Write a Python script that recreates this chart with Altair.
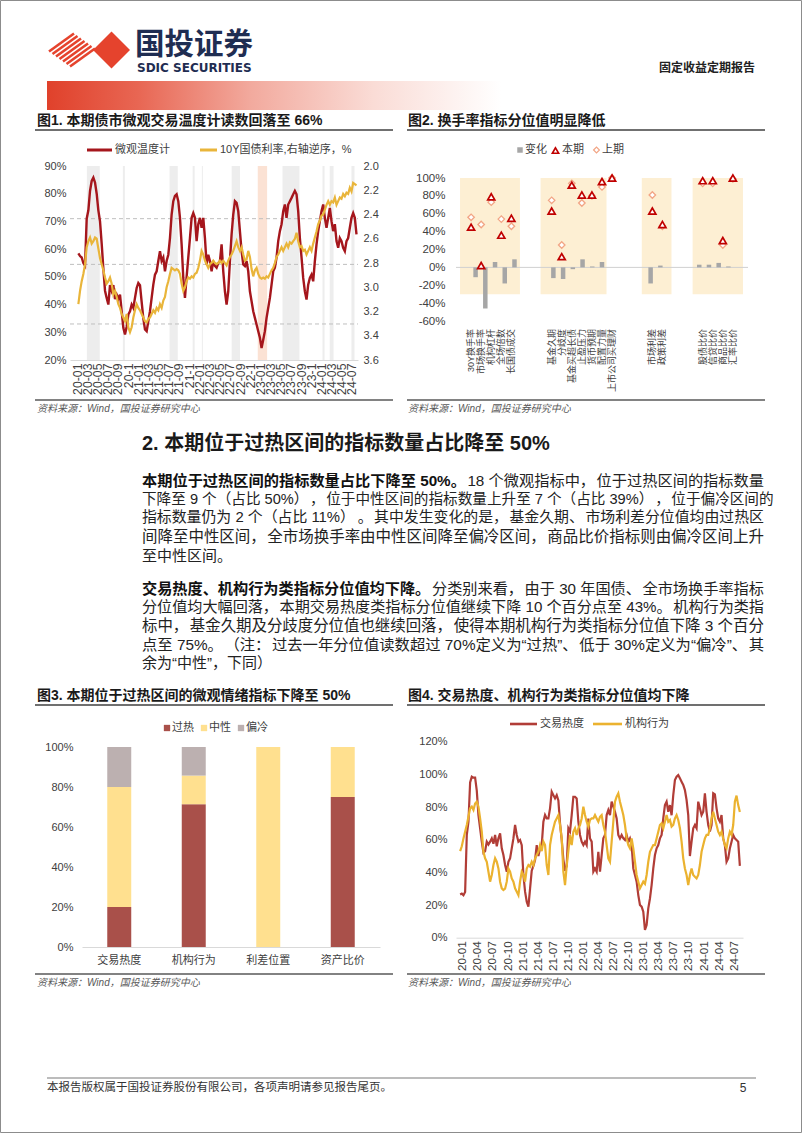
import altair as alt
import numpy as np
import pandas as pd

W, H = 802, 1133
CJK = "Noto Sans CJK SC"
LAT = "Liberation Sans"
MIX = "Liberation Sans, Noto Sans CJK SC"
AX = "#404040"

# ======================= DATA =======================
# --- Figure 1: micro thermometer (%) and 10Y CGB yield (%), ~10-day samples
fig1_first, fig1_last = "2020-01-09", "2024-07-28"
fig1_thermo = [
    58.5, 57.5, 57, 55, 54, 71, 74, 81, 84.6, 85.8,
    84, 80, 74, 70, 62, 53, 45, 42.4, 40, 47,
    45, 47, 42, 43.6, 42, 43.6, 37.6, 31.6, 29.2, 32,
    36.4, 37.6, 40, 38.8, 42.4, 46, 47.8, 47, 41, 35,
    31, 30.4, 34, 37.6, 42.4, 47.2, 50.8, 52, 55.7, 59.3,
    55.7, 57, 52, 55.7, 58, 64, 72.5, 77.3, 79.2, 79.8,
    77.3, 71.3, 61.7, 49.6, 42.4, 50, 57, 64, 71.3, 73,
    71.3, 62.9, 69, 71.3, 67.7, 71.3, 64, 54.5, 58, 55.7,
    52, 55.7, 54, 53.3, 55, 55.7,
    61.7, 52, 44.8, 40, 44.8, 55.7, 65.3, 72.5, 77.3, 76.7,
    73.7, 66.5, 59.3, 54.5, 53.9, 55.7, 52, 44.8, 41.2, 37.6,
    35.2, 32.8, 30.4, 28, 24.3, 27.3, 30.4, 35.2, 38.8, 42.4,
    47.2, 52, 53.3, 57, 62.9, 66.5, 69, 73.7, 76.1, 71.3,
    76.1, 77.3, 78.5, 79.8, 81, 79.8, 73.7, 64, 57, 49.6,
    44.8, 41.8, 47.2, 49.6, 50.8, 48.4, 55.7, 61.7, 66.5, 70.1,
    73.7, 76.1, 71.3, 67.7, 71.3, 74.9, 70.1, 66.5, 69, 62.9,
    60.5, 64, 62.9, 60.5, 59.3, 62.9, 64, 67.7, 71.3, 73,
    71.3, 65.3,
]
fig1_yield = [
    3.14, 3.03, 2.95, 2.89, 2.81, 2.67, 2.62, 2.59, 2.64, 2.62,
    2.59, 2.60, 2.68, 2.76, 2.81, 2.86, 2.92, 2.97, 2.95, 2.92,
    2.97, 3.06, 3.03, 3.08, 3.14, 3.17, 3.22, 3.25, 3.28, 3.22,
    3.33, 3.37, 3.33, 3.25, 3.19, 3.14, 3.17, 3.19, 3.22, 3.25,
    3.28, 3.29, 3.26, 3.25, 3.22, 3.19, 3.21, 3.17, 3.19, 3.14,
    3.17, 3.11, 3.08, 3.00, 2.95, 2.89, 2.84, 2.85, 2.86, 2.85,
    2.86, 2.89, 2.97, 3.03, 3.00, 2.95, 2.92, 2.93, 2.91, 2.92,
    2.89, 2.88, 2.84, 2.78, 2.70, 2.73, 2.78, 2.81, 2.84, 2.81,
    2.80, 2.78, 2.80, 2.81, 2.80, 2.78,
    2.80, 2.78, 2.80, 2.82, 2.78, 2.75, 2.73, 2.70, 2.66, 2.62,
    2.67, 2.70, 2.67, 2.73, 2.78, 2.77, 2.70, 2.75, 2.85, 2.91,
    2.86, 2.84, 2.89, 2.92, 2.93, 2.92, 2.93, 2.91, 2.92, 2.89,
    2.86, 2.84, 2.80, 2.75, 2.73, 2.70, 2.67, 2.70, 2.67, 2.64,
    2.67, 2.63, 2.64, 2.62, 2.60, 2.55, 2.62, 2.67, 2.66, 2.70,
    2.69, 2.73, 2.70, 2.67, 2.70, 2.64, 2.59, 2.54, 2.48, 2.45,
    2.41, 2.40, 2.36, 2.32, 2.29, 2.32, 2.29, 2.30, 2.26, 2.32,
    2.29, 2.26, 2.27, 2.23, 2.25, 2.22, 2.23, 2.18, 2.21, 2.14,
    2.15, 2.16,
]
fig1_band_start = ["2020-02-29", "2020-10-01", "2021-07-07", "2021-11-22", "2022-01-16",
                   "2022-07-13", "2022-12-16", "2023-05-13", "2024-01-07", "2024-02-19", "2024-06-28"]
fig1_band_end = ["2020-05-16", "2020-10-13", "2021-08-25", "2021-12-04", "2022-01-22",
                 "2022-09-01", "2023-02-10", "2023-08-22", "2024-01-19", "2024-03-13", "2024-07-16"]
fig1_band_kind = ["g", "g", "g", "g", "g", "g", "o", "g", "g", "g", "g"]
fig1_ref_levels = [0.71, 0.545, 0.33]
fig1_tick_labels = ["20-01", "20-03", "20-05", "20-07", "20-09", "20-1",
                    "21-01", "21-03", "21-05", "21-07", "21-09", "21-1",
                    "22-01", "22-03", "22-05", "22-07", "22-09", "22-1",
                    "23-01", "23-03", "23-05", "23-07", "23-09", "23-1",
                    "24-01", "24-03", "24-05", "24-07"]

# --- Figure 2: percentile of each indicator
fig2_labels = ["30Y换手率", "市场换手率", "机构杠杆", "全场倍数", "长国债成交",
               "基金久期", "分歧度", "基金买超长债", "止盈压力", "货币预期", "配置力量", "上市公司买理财",
               "市场利差", "政策利差",
               "股债比价", "信贷比价", "商品比价", "汇率比价"]
fig2_slot = [1, 2, 3, 4, 5, 9, 10, 11, 12, 13, 14, 15, 19, 20, 24, 25, 26, 27]
fig2_now = [45, 2, 79, 36, 55, 63, 12, 92, 81, 81, 96, 100, 63, 48, 97, 97, 30, 100]
fig2_prev = [56, 48, 73, 54, 46, 75, 25, 94, 72, 80, 90, 100, 81, 46, 94, 94, 25, 99]
fig2_chg = [-11, -46, 6, -18, 9, -12, -13, -2, 9, 1, 6, 0, -18, 2, 3, 3, 5, 1]
fig2_group_from = [-0.1, 7.9, 17.95, 23.0]
fig2_group_to = [5.85, 14.45, 20.9, 28.0]
fig2_group_low, fig2_group_high = -30, 100

# --- Figure 3: share of indicators in each zone
fig3_cats = ["交易热度", "机构行为", "利差位置", "资产比价"]
fig3_levels = ["过热", "中性", "偏冷"]
fig3_hot = [0.20, 0.714, 0.0, 0.75]
fig3_neutral = [0.60, 0.143, 1.0, 0.25]
fig3_cold = [0.20, 0.143, 0.0, 0.0]

# --- Figure 4: category percentiles (%)
fig4_first, fig4_last = "2019-12-22", "2024-08-10"
fig4_heat = [
    26.5, 27, 26, 28, 63, 71, 95, 98.6, 98, 98,
    90, 75, 67, 58.8, 52, 53, 58.8, 57, 58.8, 60.8,
    57.5, 62.9, 56, 60.8, 63.9, 54.7, 50.6, 44.5, 40.4, 46.5,
    48.6, 54.7, 60.8, 69, 62.9, 58.8, 59.8, 56.7, 38.4, 28.2,
    22, 19, 30, 41, 44, 47.5, 56.7, 50, 54.7, 56.7,
    71, 75.1, 73, 73, 79.2, 89.4, 87.3, 85.3, 87.3, 84,
    70, 60, 48, 41, 44, 67, 65, 75.1, 86.3, 86.3,
    85.3, 71, 62.9, 58.8, 56.7, 58.8, 56.7, 73, 60.8, 58.8,
    40.4, 42.4, 40.4, 52.6, 40.4, 50.6, 60.8, 62.9, 75.1, 78.2,
    75.1, 83.3, 80.2, 77.1, 73, 62.9, 60.8, 62.9, 60.8, 59.8,
    62.9, 58.8, 60.8, 56.7, 42.4, 38.4, 34.3, 26.1, 20, 19,
    15.9, 4.7, 7.8, 18, 24, 32.2, 42.4, 50.6, 54.7, 56.7,
    60.8, 62.9, 73, 81.2, 83.3, 77.1, 81.2, 75, 87.3, 96.5,
    98.6, 99.6, 97.6, 95.5, 93.5, 90.4, 84.3, 75.1, 50, 58.8,
    67, 69, 67, 83.3, 79.2, 75.1, 77.1, 88.4, 77.1, 69,
    65, 69, 88.4, 87.7, 79.2, 73, 71, 75.1, 60.8, 56.7,
    46.5, 48.6, 54.7, 58.8, 62.9, 60.8, 59.8, 58.8, 44,
]
fig4_inst = [
    53, 56, 60.8, 64.9, 69, 74, 79.2, 80.2, 78.2, 82.2,
    83.3, 80.2, 73, 64.9, 52.6, 48.6, 46.5, 40.4, 34.3, 38.4,
    44.5, 48.6, 46.5, 42.4, 34.3, 30.2, 29.2, 30, 34.3, 42.4,
    40.4, 36.3, 34.3, 30.2, 28.2, 26.1, 34.3, 40.4, 38.4, 34.3,
    42.4, 44.5, 43.5, 46.5, 44.5, 48.6, 50.6, 52.6, 56.7, 53,
    58.8, 56.7, 44.5, 38.4, 56.7, 62.9, 67, 71, 73, 75.1,
    69, 60.8, 40.4, 32.2, 44, 53, 62.9, 56.7, 64.9, 67,
    62.9, 67, 69, 73, 80.2, 75.1, 71, 68, 72.1, 73,
    73, 75.1, 73, 71, 74, 75.1, 69, 64.9, 56.7, 48.6,
    46.5, 58.8, 71, 83.3, 86.3, 88.4, 83.3, 79.2, 75.1, 69,
    60.8, 56.7, 54.7, 60.8, 54.7, 46.5, 38.4, 34.3, 30.2, 32.2,
    34.3, 33, 38.4, 46.5, 52.6, 54.7, 56.7, 56.7, 60.8, 64.9,
    69, 70, 67, 71, 75.1, 71, 72.1, 68, 69, 73,
    75.1, 72.1, 67, 58.8, 48.6, 42.4, 38.4, 32.2, 38.4, 42.4,
    38.4, 37.3, 36.3, 38.4, 44.5, 52.6, 56.7, 60.8, 62.9, 62.9,
    67, 73, 77.1, 73, 69, 64.9, 62.9, 64.9, 60.8, 56.7,
    54.7, 60.8, 64.9, 63, 69, 83.3, 87, 81.2, 77,
]

# --- Page texts
logo_cn, logo_en = "国投证券", "SDIC SECURITIES"
report_type = "固定收益定期报告"
fig_titles = ["图1. 本期债市微观交易温度计读数回落至 66%", "图2. 换手率指标分位值明显降低",
              "图3. 本期位于过热区间的微观情绪指标下降至 50%", "图4. 交易热度、机构行为类指标分位值均下降"]
source_note = "资料来源：Wind，国投证券研究中心"
fig1_legend = ["微观温度计", "10Y国债利率,右轴逆序，%"]
fig2_legend = ["变化", "本期", "上期"]
fig4_legend = ["交易热度", "机构行为"]
section_heading = "2. 本期位于过热区间的指标数量占比降至 50%"
para1_lead = "本期位于过热区间的指标数量占比下降至 50%。"
para1_lines = ["18 个微观指标中，位于过热区间的指标数量",
               "下降至 9 个（占比 50%），位于中性区间的指标数量上升至 7 个（占比 39%），位于偏冷区间的",
               "指标数量仍为 2 个（占比 11%）。其中发生变化的是，基金久期、市场利差分位值均由过热区",
               "间降至中性区间，全市场换手率由中性区间降至偏冷区间，商品比价指标则由偏冷区间上升",
               "至中性区间。"]
para2_lead = "交易热度、机构行为类指标分位值均下降。"
para2_lines = ["分类别来看，由于 30 年国债、全市场换手率指标",
               "分位值均大幅回落，本期交易热度类指标分位值继续下降 10 个百分点至 43%。机构行为类指",
               "标中，基金久期及分歧度分位值也继续回落，使得本期机构行为类指标分位值下降 3 个百分",
               "点至 75%。（注：过去一年分位值读数超过 70%定义为“过热”、低于 30%定义为“偏冷”、其",
               "余为“中性”，下同）"]
footer_text = "本报告版权属于国投证券股份有限公司，各项声明请参见报告尾页。"
page_no = "5"


# ======================= HELPERS =======================
def one():
    return pd.DataFrame({"k": [0]})


def text_layer(s, x, y, size, font=MIX, color="#222222", weight="normal",
               align="left", style="normal", baseline="middle"):
    return alt.Chart(pd.DataFrame({"s": [s]})).mark_text(
        align=align, baseline=baseline, font=font, fontSize=size,
        fontWeight=weight, fontStyle=style, color=color
    ).encode(text="s:N", x=alt.value(x), y=alt.value(y))


def rule_layer(x0, x1, y0, y1, color, width):
    return alt.Chart(one()).mark_rule(color=color, strokeWidth=width).encode(
        x=alt.value(x0), x2=alt.value(x1), y=alt.value(y0), y2=alt.value(y1))


def sym_layer(shape, x, y, size, fill, stroke=None, sw=0.0):
    kw = dict(shape=shape, size=size, filled=True, fill=fill, opacity=1)
    if stroke:
        kw.update(stroke=stroke, strokeWidth=sw)
    return alt.Chart(one()).mark_point(**kw).encode(x=alt.value(x), y=alt.value(y))


def dt(s):
    t = pd.Timestamp(s)
    return alt.DateTime(year=t.year, month=t.month, date=t.day)


def em_width(s):
    # Liberation Sans metrics for ASCII, full em for CJK glyphs
    w = 0.0
    for ch in s:
        if ch in "“”‘’":
            w += 0.333
        elif ord(ch) > 0x2000:
            w += 1.0
        elif ch == " ":
            w += 0.278
        elif ch == "%":
            w += 0.889
        else:
            w += 0.556
    return w


PUNCT_END = set("，。、）：；")


def split_at_punct(line):
    toks, cur = [], ""
    for ch in line:
        cur += ch
        if ch in PUNCT_END:
            toks.append(cur)
            cur = ""
    if cur:
        toks.append(cur)
    return toks


MIN_GAP = 1.5


def line_rows(toks, y, base, left, right, justify):
    em = sum(em_width(t) for t, _ in toks)
    n_gaps = max(len(toks) - 1, 1)
    if justify:
        fs = min(max((right - left - MIN_GAP * n_gaps) / em, base * 0.975), base * 1.04)
    else:
        fs = base
    widths = [em_width(t) * fs for t, _ in toks]
    gap = max((right - left - sum(widths)) / n_gaps, MIN_GAP) if justify else 0.0
    x, out = left, []
    for (t, wgt), w in zip(toks, widths):
        lead = len(t) - len(t.lstrip(" "))
        out.append({"s": t.strip(" "), "x": x + lead * 0.278 * fs, "y": y, "w": wgt, "fs": fs})
        x += w + gap
    return out


layers = []

# ======================= PAGE FRAME & HEADER =======================
layers.append(alt.Chart(one()).mark_rect(fillOpacity=0, stroke="#8C8C8C", strokeWidth=1).encode(
    x=alt.value(0.5), x2=alt.value(W - 0.5), y=alt.value(0.5), y2=alt.value(H - 0.5)))

stripe_t = [0.08, 0.22, 0.36, 0.50, 0.64, 0.78, 0.92]
stripes = pd.DataFrame({
    "x0": [47 + 25 * t for t in stripe_t], "y0": [50 + 18 * t for t in stripe_t],
    "x1": [72 + 25 * t for t in stripe_t], "y1": [32 + 18 * t for t in stripe_t]})
layers.append(alt.Chart(stripes).mark_rule(color="#E5432D", strokeWidth=2.6).encode(
    x=alt.X("x0:Q", scale=None, axis=None), y=alt.Y("y0:Q", scale=None, axis=None),
    x2="x1:Q", y2="y1:Q"))
layers.append(sym_layer("diamond", 111.5, 50, 1369, "#E5432D"))
layers.append(text_layer(logo_cn, 135, 45, 29.5, weight="bold", color="#1F2D52"))
layers.append(text_layer(logo_en, 137, 68, 12, font="DejaVu Sans", weight="bold", color="#1F2D52"))
layers.append(text_layer(report_type, 755, 68, 12, weight="bold", color="#222222", align="right"))

grad = {"gradient": "linear", "x1": 0, "y1": 0, "x2": 1, "y2": 0,
        "stops": [{"offset": 0, "color": "#E0412B"}, {"offset": 0.2, "color": "#E86653"},
                  {"offset": 0.45, "color": "#F2AA9E"}, {"offset": 0.72, "color": "#FADCD6"},
                  {"offset": 1, "color": "#FFFFFF"}]}
layers.append(alt.Chart(one()).mark_rect(fill=grad).encode(
    x=alt.value(47), x2=alt.value(501), y=alt.value(81), y2=alt.value(110)))

# ======================= FIGURE FRAMES =======================
for (x0, x1, tx), (ty, uy, by, sy), title in zip(
        [(35, 393, 37), (407, 765, 408), (35, 393, 37), (407, 765, 408)],
        [(121, 130, 400, 408.5), (121, 130, 400, 408.5), (695.5, 705, 974, 983), (695.5, 705, 974, 983)],
        fig_titles):
    layers.append(text_layer(title, tx, ty, 14, weight="bold", color="#1A1A1A"))
    layers.append(rule_layer(x0, x1, uy, uy, "#404040", 1.6))
    layers.append(rule_layer(x0, x1, by, by, "#595959", 1.6))
    layers.append(text_layer(source_note, tx, sy, 10, color="#595959", style="italic"))

# ======================= FIGURE 1 =======================
RED1, YEL1 = "#A5161C", "#E9B53A"
x1_dom = ["2019-11-20", "2024-08-06"]
xs1 = alt.Scale(type="time", domain=[dt(d) for d in x1_dom], range=[70, 358])
ys1L = alt.Scale(domain=[0.2, 0.9], range=[360, 166], zero=False, nice=False)
ys1R = alt.Scale(domain=[2.0, 3.6], range=[166, 360], zero=False, nice=False)

df1 = pd.DataFrame({
    "date": pd.date_range(fig1_first, fig1_last, periods=len(fig1_thermo)),
    "thermo": np.array(fig1_thermo) / 100.0,
    "yld": fig1_yield})
bands1 = pd.DataFrame({"s": pd.to_datetime(fig1_band_start), "e": pd.to_datetime(fig1_band_end),
                       "kind": fig1_band_kind, "top": 0.9, "bot": 0.2})
refs1 = pd.DataFrame({"lvl": fig1_ref_levels, "a": pd.Timestamp(x1_dom[0]), "b": pd.Timestamp(x1_dom[1])})
tick1 = [dt(t) for t in pd.date_range("2020-01-01", "2024-07-01", freq="2MS")]
lab1_expr = "[" + ",".join("'%s'" % s for s in fig1_tick_labels) + "][round(datum.index*%d)]" % (len(fig1_tick_labels) - 1)

layers.append(alt.Chart(bands1).mark_rect().encode(
    x=alt.X("s:T", scale=xs1, axis=None), x2="e:T",
    y=alt.Y("top:Q", scale=ys1L, axis=None), y2="bot:Q",
    color=alt.Color("kind:N", scale=alt.Scale(domain=["g", "o"], range=["#EDEDED", "#FBE2D4"]), legend=None)))
layers.append(alt.Chart(refs1).mark_rule(color="#BFBFBF", strokeDash=[4, 3], strokeWidth=1).encode(
    x=alt.X("a:T", scale=xs1, axis=None), x2="b:T", y=alt.Y("lvl:Q", scale=ys1L, axis=None)))
layers.append(alt.Chart(df1).mark_line(color=RED1, strokeWidth=2.4).encode(
    x=alt.X("date:T", scale=xs1, axis=alt.Axis(
        orient="bottom", offset=360 - H, values=tick1, labelExpr=lab1_expr, labelAngle=270,
        labelAlign="right", labelBaseline="middle", labelFont=LAT, labelFontSize=12.3, labelColor=AX,
        labelPadding=3, ticks=False, domain=True, domainColor="#D9D9D9", grid=False, title=None,
        labelOverlap=False, labelFlush=False, labelBound=False, zindex=1)),
    y=alt.Y("thermo:Q", scale=ys1L, axis=alt.Axis(
        orient="left", offset=-70, values=[0.2, 0.3, 0.4, 0.5, 0.6, 0.7, 0.8, 0.9], format=".0%",
        labelFont=LAT, labelFontSize=11, labelColor=AX, labelPadding=4, ticks=False, domain=False,
        grid=False, title=None, labelOverlap=False, labelFlush=False, zindex=1))))
layers.append(alt.Chart(df1).mark_line(color=YEL1, strokeWidth=2.2).encode(
    x=alt.X("date:T", scale=xs1, axis=None),
    y=alt.Y("yld:Q", scale=ys1R, axis=alt.Axis(
        orient="right", offset=358 - W, values=[2.0, 2.2, 2.4, 2.6, 2.8, 3.0, 3.2, 3.4, 3.6], format=".1f",
        labelFont=LAT, labelFontSize=11, labelColor=AX, labelPadding=5, ticks=False, domain=False,
        grid=False, title=None, labelOverlap=False, labelFlush=False, zindex=1))))
layers.append(rule_layer(87, 112, 150, 150, RED1, 3))
layers.append(text_layer(fig1_legend[0], 115, 150, 11, color=AX))
layers.append(rule_layer(200, 217, 150, 150, YEL1, 3))
layers.append(text_layer(fig1_legend[1], 220, 150, 11, color=AX))

# ======================= FIGURE 2 =======================
xs2 = alt.Scale(domain=[-0.5, 28.5], range=[456, 748], zero=False, nice=False)
ys2 = alt.Scale(domain=[-60, 100], range=[321, 178], zero=False, nice=False)
df2 = pd.DataFrame({"slot": fig2_slot, "label": fig2_labels, "now": fig2_now,
                    "prev": fig2_prev, "chg": fig2_chg})
grp2 = pd.DataFrame({"a": fig2_group_from, "b": fig2_group_to,
                     "lo": fig2_group_low, "hi": fig2_group_high})
zero2 = pd.DataFrame({"a": [-0.5], "b": [28.5], "v": [0]})

layers.append(alt.Chart(grp2).mark_rect(color="#FDEFD3").encode(
    x=alt.X("a:Q", scale=xs2, axis=None), x2="b:Q",
    y=alt.Y("hi:Q", scale=ys2, axis=None), y2="lo:Q"))
layers.append(alt.Chart(zero2).mark_rule(color="#D0D0D0", strokeWidth=1).encode(
    x=alt.X("a:Q", scale=xs2, axis=None), x2="b:Q", y=alt.Y("v:Q", scale=ys2, axis=None)))
layers.append(alt.Chart(df2).mark_bar(color="#A6A6A6", size=4.5).encode(
    x=alt.X("slot:Q", scale=xs2, axis=None),
    y=alt.Y("chg:Q", scale=ys2, axis=alt.Axis(
        orient="left", offset=-449, values=[-60, -40, -20, 0, 20, 40, 60, 80, 100],
        labelExpr="datum.value + '%'", labelFont=LAT, labelFontSize=11.5, labelColor=AX,
        labelPadding=4, ticks=False, domain=False, grid=False, title=None,
        labelOverlap=False, labelFlush=False, zindex=1)),
    y2=alt.datum(0)))
layers.append(alt.Chart(df2).mark_point(shape="diamond", filled=True, fill="white", stroke="#F2A585",
                                        strokeWidth=1.3, size=42, opacity=1).encode(
    x=alt.X("slot:Q", scale=xs2, axis=None), y=alt.Y("prev:Q", scale=ys2, axis=None)))
layers.append(alt.Chart(df2).mark_point(shape="triangle-up", filled=True, fill="white", stroke="#C00000",
                                        strokeWidth=1.7, size=50, opacity=1).encode(
    x=alt.X("slot:Q", scale=xs2, axis=None), y=alt.Y("now:Q", scale=ys2, axis=None)))
layers.append(alt.Chart(df2).mark_text(angle=270, align="right", baseline="middle", font=MIX,
                                       fontSize=9, color=AX).encode(
    x=alt.X("slot:Q", scale=xs2, axis=None), y=alt.value(329), text="label:N"))
layers.append(alt.Chart(one()).mark_square(size=30, color="#A6A6A6", opacity=1).encode(
    x=alt.value(520), y=alt.value(150)))
layers.append(text_layer(fig2_legend[0], 525, 150, 11, color=AX))
layers.append(sym_layer("triangle-up", 555.5, 150.5, 40, "white", "#C00000", 1.6))
layers.append(text_layer(fig2_legend[1], 562, 150, 11, color=AX))
layers.append(sym_layer("diamond", 596.5, 150, 34, "white", "#F2A585", 1.2))
layers.append(text_layer(fig2_legend[2], 602, 150, 11, color=AX))

# ======================= FIGURE 3 =======================
df3 = pd.DataFrame({
    "cat": fig3_cats * 3,
    "level": [fig3_levels[0]] * 4 + [fig3_levels[1]] * 4 + [fig3_levels[2]] * 4,
    "v": fig3_hot + fig3_neutral + fig3_cold,
    "ord": [0] * 4 + [1] * 4 + [2] * 4})
F3COL = ["#A9504A", "#FFE08F", "#BCB0B0"]
xs3 = alt.Scale(domain=fig3_cats, range=[82, 380], paddingInner=0.678, paddingOuter=0.339)
ys3 = alt.Scale(domain=[0, 1], range=[947, 747], zero=False, nice=False)
layers.append(alt.Chart(df3).mark_bar().encode(
    x=alt.X("cat:N", scale=xs3, sort=fig3_cats, axis=alt.Axis(
        orient="bottom", offset=947 - H, labelAngle=0, labelFont=MIX, labelFontSize=11,
        labelColor=AX, labelPadding=13, ticks=False, domain=True, domainColor="#D9D9D9",
        grid=False, title=None, labelBaseline="middle", zindex=1)),
    y=alt.Y("v:Q", stack="zero", scale=ys3, axis=alt.Axis(
        orient="left", offset=-78, values=[0, 0.2, 0.4, 0.6, 0.8, 1.0], format=".0%",
        labelFont=LAT, labelFontSize=11, labelColor=AX, labelPadding=5, ticks=False,
        domain=False, grid=False, title=None, labelOverlap=False, labelFlush=False, zindex=1)),
    color=alt.Color("level:N", scale=alt.Scale(domain=fig3_levels, range=F3COL), legend=None),
    order=alt.Order("ord:Q")))
for lvl, col, sx in zip(fig3_levels, F3COL, [167, 204, 241]):
    layers.append(alt.Chart(one()).mark_square(size=40, color=col, opacity=1).encode(
        x=alt.value(sx), y=alt.value(728)))
    layers.append(text_layer(lvl, sx + 5, 728, 11, color=AX))

# ======================= FIGURE 4 =======================
RED4, YEL4 = "#B13D37", "#EBB22F"
xs4 = alt.Scale(type="time", domain=[dt("2019-11-27"), dt("2024-08-29")], range=[456, 743])
ys4 = alt.Scale(domain=[0, 1.2], range=[937.7, 741.7], zero=False, nice=False)
df4 = pd.DataFrame({
    "date": pd.date_range(fig4_first, fig4_last, periods=len(fig4_heat)),
    "heat": np.array(fig4_heat) / 100.0,
    "inst": np.array(fig4_inst) / 100.0})
tick4 = [dt(t) for t in pd.date_range("2020-01-01", "2024-07-01", freq="3MS")]
layers.append(alt.Chart(df4).mark_line(color=RED4, strokeWidth=2.2).encode(
    x=alt.X("date:T", scale=xs4, axis=alt.Axis(
        orient="bottom", offset=937.7 - H, values=tick4, format="%y-%m", labelAngle=270,
        labelAlign="right", labelBaseline="middle", labelFont=LAT, labelFontSize=11.7, labelColor=AX,
        labelPadding=3, ticks=False, domain=True, domainColor="#D9D9D9", grid=False, title=None,
        labelOverlap=False, labelFlush=False, labelBound=False, zindex=1)),
    y=alt.Y("heat:Q", scale=ys4, axis=alt.Axis(
        orient="left", offset=-451, values=[0, 0.2, 0.4, 0.6, 0.8, 1.0, 1.2], format=".0%",
        labelFont=LAT, labelFontSize=11, labelColor=AX, labelPadding=4, ticks=False, domain=False,
        grid=False, title=None, labelOverlap=False, labelFlush=False, zindex=1))))
layers.append(alt.Chart(df4).mark_line(color=YEL4, strokeWidth=2.2).encode(
    x=alt.X("date:T", scale=xs4, axis=None), y=alt.Y("inst:Q", scale=ys4, axis=None)))
layers.append(rule_layer(510, 537, 724, 724, RED4, 2.6))
layers.append(text_layer(fig4_legend[0], 540, 724, 11, color=AX))
layers.append(rule_layer(593, 622, 724, 724, YEL4, 2.6))
layers.append(text_layer(fig4_legend[1], 625, 724, 11, color=AX))

# ======================= TEXT SECTION =======================
BODY = 15.0
LX, RX = 142, 764
layers.append(text_layer(section_heading, LX, 444, 20, weight="bold", color="#1A1A1A"))

rows = []
for lead, lines, y0 in [(para1_lead, para1_lines, 481.0), (para2_lead, para2_lines, 588.5)]:
    for i, ln in enumerate(lines):
        toks = ([(lead, "bold")] if i == 0 else []) + [(t, "normal") for t in split_at_punct(ln)]
        rows += line_rows(toks, y0 + 18.7 * i, BODY, LX, RX, justify=(i < len(lines) - 1))
body_df = pd.DataFrame(rows)
for wgt, col in [("bold", "#111111"), ("normal", "#222222")]:
    layers.append(alt.Chart(body_df[body_df["w"] == wgt]).mark_text(
        align="left", baseline="middle", font=MIX, fontWeight=wgt, color=col).encode(
        text="s:N", x=alt.X("x:Q", scale=None, axis=None), y=alt.Y("y:Q", scale=None, axis=None),
        size=alt.Size("fs:Q", scale=None, legend=None)))

# ======================= FOOTER =======================
layers.append(rule_layer(47, 756, 1078, 1078, "#A6A6A6", 1.6))
layers.append(text_layer(footer_text, 47, 1087.5, 11.5, color="#333333"))
layers.append(text_layer(page_no, 743, 1087.5, 12, font=LAT, color="#333333", align="center"))

chart = alt.layer(*layers).resolve_scale(
    x="independent", y="independent", color="independent", size="independent"
).properties(
    width=W, height=H, padding=0, background="white",
    autosize=alt.AutoSizeParams(type="none")
).configure_view(stroke=None)

chart.save("out.html", embed_options={"renderer": "svg", "actions": False})
